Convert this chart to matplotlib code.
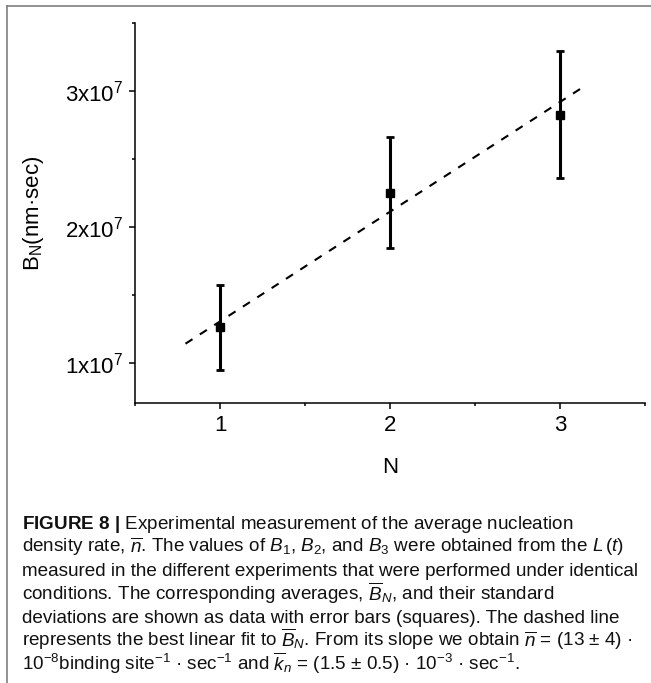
import numpy as np
import matplotlib
matplotlib.use("Agg")
import matplotlib.pyplot as plt
from matplotlib import font_manager
from matplotlib.ticker import MultipleLocator, FixedLocator, FixedFormatter
from matplotlib.lines import Line2D

# ---------------- data ----------------
N = [1, 2, 3]
B_mean = [1.265e7, 2.252e7, 2.824e7]
B_err_low = [0.316e7, 0.409e7, 0.466e7]
B_err_high = [0.309e7, 0.412e7, 0.470e7]
fit_N = [0.797, 3.155]
fit_B = [1.14e7, 3.044e7]
xticks = [1, 2, 3]
xticklabels = ["1", "2", "3"]
yticks = [1e7, 2e7, 3e7]
yticklabels = [r"$\mathregular{1x10^7}$", r"$\mathregular{2x10^7}$", r"$\mathregular{3x10^7}$"]

caption_lines = [
    r"$\mathbf{FIGURE\ 8\ |}$ Experimental measurement of the average nucleation",
    r"density rate, $\overline{n}$. The values of $B_1$, $B_2$, and $B_3$ were obtained from the $L\,(t)$",
    "measured in the different experiments that were performed under identical",
    r"conditions. The corresponding averages, $\overline{B}_N$, and their standard",
    "deviations are shown as data with error bars (squares). The dashed line",
    r"represents the best linear fit to $\overline{B}_N$. From its slope we obtain $\overline{n}$ = (13 ± 4) ·",
    r"$10^{-8}$binding site$^{-1}$ · sec$^{-1}$ and $\overline{k}_n$ = (1.5 ± 0.5) · $10^{-3}$ · sec$^{-1}$.",
]

# ---------------- fonts ----------------
def have(name):
    try:
        font_manager.findfont(name, fallback_to_default=False)
        return True
    except Exception:
        return False

cap_font = "Liberation Sans Narrow" if have("Liberation Sans Narrow") else "Liberation Sans"
plt.rcParams["font.family"] = ["Liberation Sans", "DejaVu Sans"]
plt.rcParams["mathtext.fontset"] = "custom"
plt.rcParams["mathtext.rm"] = cap_font
plt.rcParams["mathtext.it"] = cap_font + ":italic"
plt.rcParams["mathtext.bf"] = cap_font + ":bold"

W, H = 651, 683
fig = plt.figure(figsize=(W / 100, H / 100), dpi=100)

# axes placement (pixels from top-left)
ax_l, ax_r, ax_t, ax_b = 135, 645, 23, 403.5
ax = fig.add_axes([ax_l / W, 1 - ax_b / H, (ax_r - ax_l) / W, (ax_b - ax_t) / H])

ax.plot(fit_N, fit_B, color="black", lw=1.5, dashes=(4, 4.2))
ax.errorbar(N, B_mean, yerr=[B_err_low, B_err_high], fmt="s", color="black",
            ms=5.5, elinewidth=2.2, capsize=3.2, capthick=2.0, zorder=3)

ax.set_xlim(0.5, 3.5)
ax.set_ylim(0.7e7, 3.5e7)
ax.spines["top"].set_visible(False)
ax.spines["right"].set_visible(False)
for s in ("left", "bottom"):
    ax.spines[s].set_linewidth(1.1)

ax.xaxis.set_major_locator(FixedLocator(xticks))
ax.xaxis.set_major_formatter(FixedFormatter(xticklabels))
ax.yaxis.set_major_locator(FixedLocator(yticks))
ax.yaxis.set_major_formatter(FixedFormatter(yticklabels))
ax.xaxis.set_minor_locator(MultipleLocator(0.5))
ax.yaxis.set_minor_locator(MultipleLocator(0.5e7))
ax.tick_params(which="major", direction="out", length=4.5, width=1.1, labelsize=16, pad=4)
ax.tick_params(which="minor", direction="out", length=2.5, width=1.1)

ax.set_xlabel("N", fontsize=16)
ax.xaxis.set_label_coords(0.5, -53.5 / (ax_b - ax_t))
ax.xaxis.label.set_va("top")
ax.set_ylabel(r"B$_\mathregular{N}$(nm·sec)", fontsize=16)
ax.yaxis.set_label_coords((33 - ax_l) / (ax_r - ax_l), 0.5)
ax.yaxis.label.set_va("center")

# gray frame (top and left edges visible)
fig.add_artist(Line2D([7 / W, 7 / W], [0, 1 - 6 / H], color="#7f7f7f", lw=1.2,
                      transform=fig.transFigure))
fig.add_artist(Line2D([7 / W, 1], [1 - 6 / H, 1 - 6 / H], color="#7f7f7f", lw=1.2,
                      transform=fig.transFigure))

# caption
x0 = 22
base0 = 529
spacing = 23.5
texts = []
for i, line in enumerate(caption_lines):
    t = fig.text(x0 / W, 1 - (base0 + i * spacing) / H, line, fontsize=13,
                 family=[cap_font, "DejaVu Sans"], ha="left", va="baseline", color="#111111")
    texts.append(t)
renderer = fig.canvas.get_renderer()
w = texts[2].get_window_extent(renderer).width
target = 620
size = 13 * target / w
for t in texts:
    t.set_fontsize(size)

fig.savefig("out.png", dpi=100)
